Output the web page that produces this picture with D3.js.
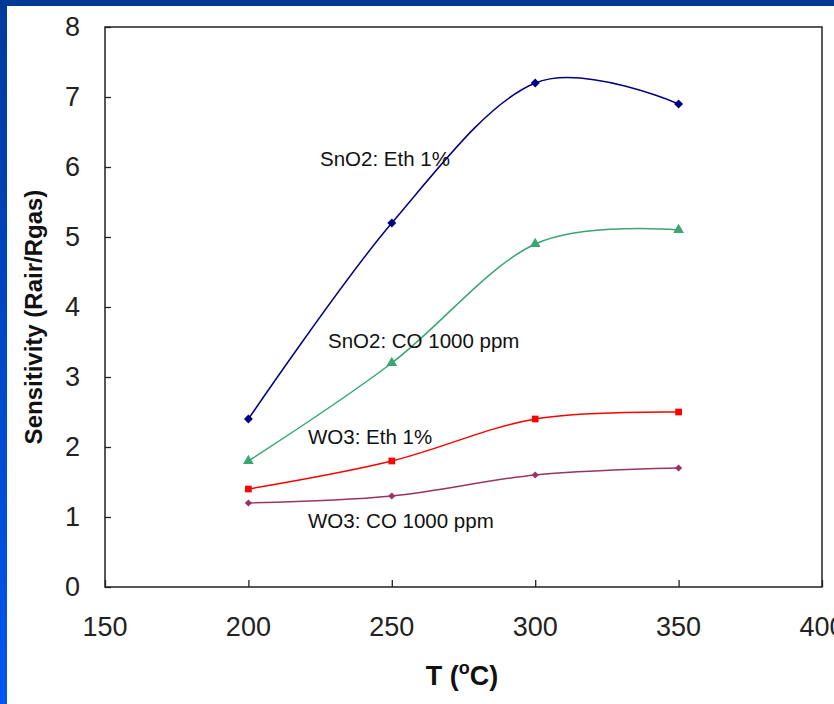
<!DOCTYPE html>
<html>
<head>
<meta charset="utf-8">
<script src="https://cdn.jsdelivr.net/npm/d3@7"></script>
<style>
  html, body { margin: 0; padding: 0; background: #ffffff; }
  svg { display: block; }
  text { font-family: "Liberation Sans", Arial, sans-serif; }
</style>
</head>
<body>
<script>
// ---- data ----
const temperatures = [200, 250, 300, 350];
const sno2Eth = [2.4, 5.2, 7.2, 6.9];
const sno2CO  = [1.8, 3.2, 4.9, 5.1];
const wo3Eth  = [1.4, 1.8, 2.4, 2.5];
const wo3CO   = [1.2, 1.3, 1.6, 1.7];
const seriesNames = ["SnO2: Eth 1%", "SnO2: CO 1000 ppm", "WO3: Eth 1%", "WO3: CO 1000 ppm"];
const xTicks = [150, 200, 250, 300, 350, 400];
const yTicks = [0, 1, 2, 3, 4, 5, 6, 7, 8];
const yTitle = "Sensitivity (Rair/Rgas)";

(function () {
const W = 834, H = 704;
const svg = d3.select("body").append("svg").attr("width", W).attr("height", H);

// slide background / border
const defs = svg.append("defs");
const grad = defs.append("linearGradient").attr("id", "lb").attr("x1", 0).attr("y1", 0).attr("x2", 0).attr("y2", 1);
grad.append("stop").attr("offset", "0%").attr("stop-color", "#003a9c");
grad.append("stop").attr("offset", "100%").attr("stop-color", "#0056f0");
svg.append("rect").attr("x", 0).attr("y", 0).attr("width", W).attr("height", H).attr("fill", "#ffffff");
svg.append("rect").attr("x", 0).attr("y", 0).attr("width", 7).attr("height", H).attr("fill", "url(#lb)");
svg.append("rect").attr("x", 0).attr("y", 0).attr("width", W).attr("height", 6).attr("fill", "#003a96");

const pL = 105, pR = 822, pT = 27, pB = 587;
const x = d3.scaleLinear().domain([150, 400]).range([pL, pR]);
const y = d3.scaleLinear().domain([0, 8]).range([pB, pT]);

const g = svg.append("g");

// frame
g.append("rect").attr("x", pL).attr("y", pT).attr("width", pR - pL).attr("height", pB - pT)
  .attr("fill", "none").attr("stroke", "#222").attr("stroke-width", 1.5);

// axes (ticks inside)
const yAxis = d3.axisRight(y).tickValues(yTicks).tickSize(6).tickFormat("");
const ya = g.append("g").attr("transform", `translate(${pL},0)`).call(yAxis);
ya.select(".domain").remove();
ya.selectAll("line").attr("stroke", "#222").attr("stroke-width", 1.3);

const xAxis = d3.axisTop(x).tickValues(xTicks).tickSize(7).tickFormat("");
const xa = g.append("g").attr("transform", `translate(0,${pB})`).call(xAxis);
xa.select(".domain").remove();
xa.selectAll("line").attr("stroke", "#222").attr("stroke-width", 1.3);

// tick labels
g.selectAll(".ylab").data(yTicks).enter().append("text")
  .attr("x", 80).attr("y", d => y(d) + 9)
  .attr("text-anchor", "end").attr("font-size", 27).attr("fill", "#222")
  .text(d => d);
g.selectAll(".xlab").data(xTicks).enter().append("text")
  .attr("x", d => x(d)).attr("y", 636)
  .attr("text-anchor", "middle").attr("font-size", 27).attr("fill", "#222")
  .text(d => d);

// axis titles
g.append("text").attr("transform", `translate(42,317) rotate(-90)`)
  .attr("text-anchor", "middle").attr("font-size", 24).attr("font-weight", "bold").attr("fill", "#111")
  .text(yTitle);
const xt = g.append("text").attr("x", 462).attr("y", 685).attr("text-anchor", "middle")
  .attr("font-size", 27).attr("font-weight", "bold").attr("fill", "#111");
xt.append("tspan").text("T (");
xt.append("tspan").attr("dy", -11).attr("font-size", 18).text("o");
xt.append("tspan").attr("dy", 11).text("C)");

// series
const series = [
  { name: seriesNames[0], values: sno2Eth, color: "#000080", marker: d3.symbolSquare, rot: 45, size: 40, lx: 320, ly: 166 },
  { name: seriesNames[1], values: sno2CO,  color: "#3aa672", marker: d3.symbolTriangle, rot: 0, size: 50, lx: 328, ly: 348 },
  { name: seriesNames[2], values: wo3Eth,  color: "#ff0000", marker: d3.symbolSquare, rot: 0, size: 45, lx: 308, ly: 444 },
  { name: seriesNames[3], values: wo3CO,   color: "#993366", marker: d3.symbolSquare, rot: 45, size: 26, lx: 308, ly: 528 }
];

const line = d3.line().x(d => x(d[0])).y(d => y(d[1])).curve(d3.curveCatmullRom.alpha(0));

series.forEach(s => {
  const pts = temperatures.map((t, i) => [t, s.values[i]]);
  g.append("path").attr("d", line(pts)).attr("fill", "none")
    .attr("stroke", s.color).attr("stroke-width", 1.5);
  g.selectAll(null).data(pts).enter().append("path")
    .attr("transform", d => `translate(${x(d[0])},${y(d[1])}) rotate(${s.rot})`)
    .attr("d", d3.symbol().type(s.marker).size(s.size))
    .attr("fill", s.color);
  g.append("text").attr("x", s.lx).attr("y", s.ly).attr("font-size", 20.5).attr("fill", "#111").text(s.name);
});
})();
</script>
</body>
</html>
